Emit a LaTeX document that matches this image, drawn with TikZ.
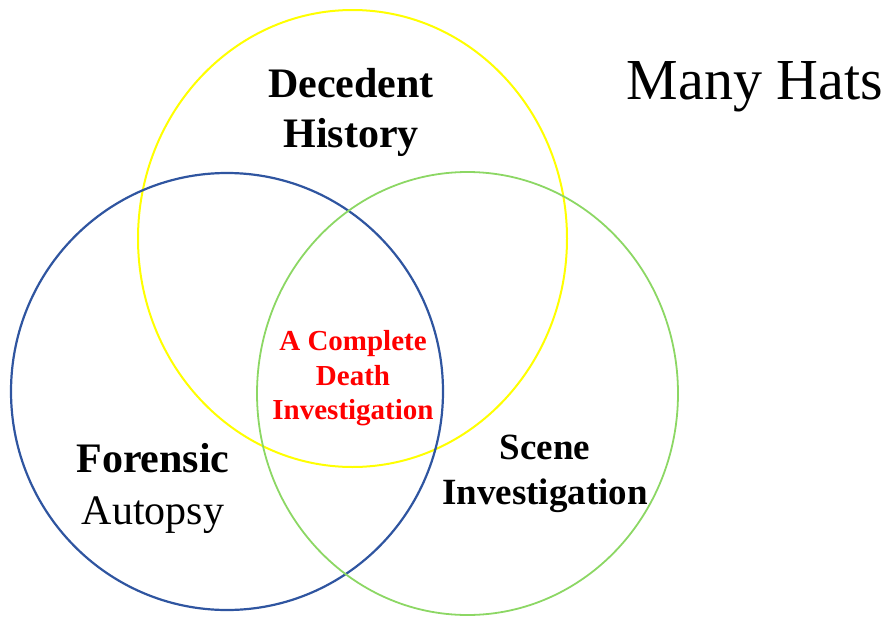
\documentclass[tikz,border=0pt]{standalone}
\usepackage{fontspec}
\setmainfont{Liberation Serif}
\usetikzlibrary{positioning}
\definecolor{hatyellow}{RGB}{255, 255, 0}
\definecolor{hatblue}{RGB}{47, 85, 160}
\definecolor{hatgreen}{RGB}{140, 215, 100}
\definecolor{hatred}{RGB}{255, 0, 0}

\tikzset{
    hatlabel/.style={anchor=base, inner sep=0pt, font=\fontsize{42}{50}\selectfont},
    scenelabel/.style={anchor=base, inner sep=0pt, font=\fontsize{37}{45}\selectfont\bfseries},
    corelabel/.style={anchor=base, inner sep=0pt, text=hatred, font=\fontsize{29}{35}\selectfont\bfseries},
}

\begin{document}
\begin{tikzpicture}[x=1pt, y=-1pt]
\useasboundingbox (0,0) rectangle (889,616);

% === Circulos ===
\draw[line width=2pt, hatyellow] (352.5,238.5) ellipse (214.5pt and 228.5pt);
\draw[line width=2.2pt, hatblue] (227,391.5) ellipse (216pt and 218.5pt);
\draw[line width=1.8pt, hatgreen] (467.5,393.5) ellipse (210.5pt and 221.5pt);

% === Titulo ===
\node[anchor=base, inner sep=0pt, font=\fontsize{58}{70}\selectfont] (title) at (755,99) {Many Hats};

% === Decedent History ===
\node[hatlabel, font=\fontsize{42}{50}\selectfont\bfseries] (decedent) at (351,97) {Decedent};
\node[hatlabel, font=\fontsize{42}{50}\selectfont\bfseries] (history) at (351,147) {History};

% === Forensic Autopsy ===
\node[hatlabel, font=\fontsize{42}{50}\selectfont\bfseries] (forensic) at (153,472) {Forensic};
\node[hatlabel] (autopsy) at (153,524) {Autopsy};

% === Scene Investigation ===
\node[scenelabel] (scene) at (545,459) {Scene};
\node[scenelabel] (investigation) at (545,504) {Investigation};

% === Centro ===
\node[corelabel] (complete) at (353,350) {A Complete};
\node[corelabel] (death) at (353,385) {Death};
\node[corelabel] (deathinv) at (353,419) {Investigation};

\end{tikzpicture}
\end{document}
